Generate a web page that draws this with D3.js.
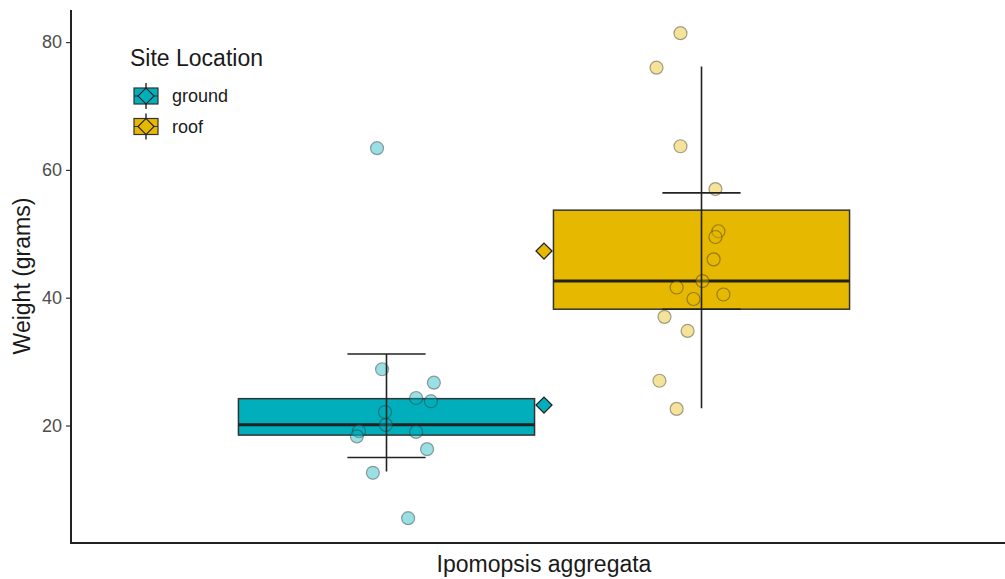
<!DOCTYPE html>
<html>
<head>
<meta charset="utf-8">
<script src="https://cdn.jsdelivr.net/npm/d3@7"></script>
<style>
  html, body { margin: 0; padding: 0; background: #fff; }
  svg { display: block; font-family: "Liberation Sans", Arial, sans-serif; }
</style>
</head>
<body>
<svg id="chart" width="1005" height="579"></svg>
<script>
// ---- data ----
const species = ["Ipomopsis aggregata"];
const sites = ["ground", "roof"];
const siteColors = ["#00AFBB", "#E7B800"];

// individual weights (grams) and their horizontal jitter (fraction of box width)
const groundWeights = [63.4, 28.8, 26.7, 24.3, 23.8, 22.1, 20.1, 19.1, 18.3, 19.0, 16.3, 12.6, 5.5];
const groundJitter  = [-0.032, -0.015, 0.160, 0.100, 0.150, -0.005, -0.002, -0.093, -0.100, 0.100, 0.137, -0.046, 0.073];
const roofWeights   = [81.4, 76.0, 63.7, 57.0, 50.4, 49.5, 46.0, 42.6, 41.6, 40.5, 39.8, 37.0, 34.8, 27.0, 22.6];
const roofJitter    = [-0.071, -0.152, -0.071, 0.047, 0.057, 0.047, 0.041, 0.003, -0.084, 0.074, -0.027, -0.125, -0.047, -0.142, -0.084];

// box summaries: lower hinge, median, upper hinge
const boxLower  = [18.5, 38.2];
const boxMedian = [20.1, 42.6];
const boxUpper  = [24.2, 53.7];
// group means
const means = [23.2, 47.3];
// vertical range line and error-bar caps
const rangeLow  = [12.8, 22.7];
const rangeHigh = [31.2, 76.2];
const capLow    = [15.0, 38.2];
const capHigh   = [31.2, 56.4];

const yTicks = [20, 40, 60, 80];

// ---- layout ----
const svg = d3.select("#chart");
const panelLeft = 71, panelRight = 1017, panelTop = 10, panelBottom = 543;

const y = d3.scaleLinear().domain([20, 80]).range([425.5, 42.1]);

const x = d3.scaleBand().domain(species).range([panelLeft, panelRight])
  .paddingInner(0).paddingOuter(0.274);
const xSite = d3.scaleBand().domain(sites)
  .range([x(species[0]), x(species[0]) + x.bandwidth()])
  .paddingInner(0.06).paddingOuter(0);
const catCenter = x(species[0]) + x.bandwidth() / 2;
const siteCenter = s => xSite(s) + xSite.bandwidth() / 2;
const bw = xSite.bandwidth();
const capHalf = bw * 0.132;

const groups = sites.map((s, i) => ({
  site: s,
  color: siteColors[i],
  weights: i === 0 ? groundWeights : roofWeights,
  jitter: i === 0 ? groundJitter : roofJitter,
  lower: boxLower[i], median: boxMedian[i], upper: boxUpper[i],
  mean: means[i],
  rLow: rangeLow[i], rHigh: rangeHigh[i],
  cLow: capLow[i], cHigh: capHigh[i]
}));

// ---- boxes ----
const boxes = svg.append("g");
groups.forEach(g => {
  boxes.append("rect")
    .attr("x", xSite(g.site)).attr("width", bw)
    .attr("y", y(g.upper)).attr("height", y(g.lower) - y(g.upper))
    .attr("fill", g.color).attr("stroke", "#333").attr("stroke-width", 1.5);
  boxes.append("line")
    .attr("x1", xSite(g.site)).attr("x2", xSite(g.site) + bw)
    .attr("y1", y(g.median)).attr("y2", y(g.median))
    .attr("stroke", "#222").attr("stroke-width", 3);
});

// ---- jittered points ----
const pts = svg.append("g");
groups.forEach(g => {
  pts.selectAll(null).data(g.weights.map((w, k) => ({ w, j: g.jitter[k] })))
    .join("circle")
    .attr("cx", d => siteCenter(g.site) + d.j * bw)
    .attr("cy", d => y(d.w))
    .attr("r", 6.5)
    .attr("fill", g.color).attr("fill-opacity", 0.4)
    .attr("stroke", "#333").attr("stroke-opacity", 0.45).attr("stroke-width", 1.2);
});

// ---- range lines and error bars ----
const eb = svg.append("g").attr("stroke", "#222").attr("stroke-width", 1.6);
groups.forEach(g => {
  const cx = siteCenter(g.site);
  eb.append("line").attr("x1", cx).attr("x2", cx)
    .attr("y1", y(g.rLow)).attr("y2", y(g.rHigh));
  [g.cLow, g.cHigh].forEach(v => {
    eb.append("line").attr("x1", cx - capHalf).attr("x2", cx + capHalf)
      .attr("y1", y(v)).attr("y2", y(v));
  });
});

// ---- mean diamonds ----
const diamond = d3.symbol().type(d3.symbolSquare).size(128);
svg.append("g").selectAll("path").data(groups).join("path")
  .attr("d", diamond)
  .attr("transform", d => `translate(${catCenter},${y(d.mean)}) rotate(45)`)
  .attr("fill", d => d.color).attr("stroke", "#222").attr("stroke-width", 1.3);

// ---- axes ----
const yAxis = svg.append("g").attr("transform", `translate(${panelLeft},0)`)
  .call(d3.axisLeft(y).tickValues(yTicks).tickSize(5).tickPadding(4));
yAxis.select(".domain").remove();
yAxis.selectAll(".tick line").attr("stroke", "#333").attr("stroke-width", 1.2);
yAxis.selectAll(".tick text").attr("fill", "#4d4d4d").style("font-size", "18px")
  .style("font-family", "'Liberation Sans', Arial, sans-serif");

svg.append("line").attr("x1", panelLeft).attr("x2", panelLeft).attr("y1", panelTop).attr("y2", panelBottom + 1)
  .attr("stroke", "#222").attr("stroke-width", 2);
svg.append("line").attr("x1", panelLeft - 1).attr("x2", panelRight).attr("y1", panelBottom).attr("y2", panelBottom)
  .attr("stroke", "#222").attr("stroke-width", 2);

// category label
svg.append("text").attr("x", catCenter).attr("y", 572)
  .attr("text-anchor", "middle").attr("fill", "#1a1a1a").style("font-size", "23px")
  .text(species[0]);

// y title
svg.append("text").attr("transform", "translate(30,276) rotate(-90)")
  .attr("text-anchor", "middle").attr("fill", "#1a1a1a").style("font-size", "23px")
  .text("Weight (grams)");

// ---- legend ----
const legend = svg.append("g");
legend.append("text").attr("x", 130).attr("y", 66).attr("fill", "#1a1a1a")
  .style("font-size", "23px").text("Site Location");
groups.forEach((g, i) => {
  const cy = 96 + i * 30.5;
  const kx = 146;
  legend.append("rect").attr("x", kx - 12).attr("y", cy - 8).attr("width", 24).attr("height", 16)
    .attr("fill", g.color).attr("stroke", "#333").attr("stroke-width", 1.2);
  legend.append("line").attr("x1", kx - 12).attr("x2", kx + 12).attr("y1", cy).attr("y2", cy)
    .attr("stroke", "#333").attr("stroke-width", 1);
  legend.append("line").attr("x1", kx).attr("x2", kx).attr("y1", cy - 13).attr("y2", cy + 13)
    .attr("stroke", "#222").attr("stroke-width", 1.4);
  legend.append("path").attr("d", diamond)
    .attr("transform", `translate(${kx},${cy}) rotate(45)`)
    .attr("fill", g.color).attr("stroke", "#222").attr("stroke-width", 1.2);
  legend.append("text").attr("x", 172).attr("y", cy + 6).attr("fill", "#1a1a1a")
    .style("font-size", "18px").text(g.site);
});
</script>
</body>
</html>
